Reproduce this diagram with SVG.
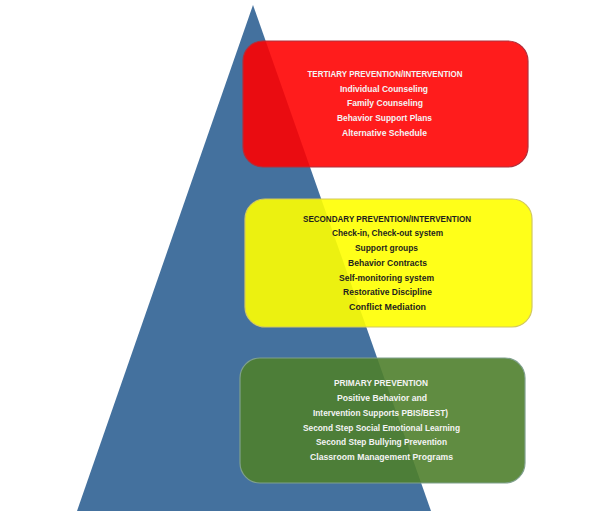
<svg xmlns="http://www.w3.org/2000/svg" width="600" height="514" viewBox="0 0 600 514">
<style>
.t{font-family:"Liberation Sans",Arial,sans-serif;font-weight:bold;font-size:8.6px;text-anchor:middle}
.w{fill:#F4F4F4}
.d{fill:#1E1E1E}
</style>
<rect width="600" height="514" fill="#FFFFFF"/>
<g id="pyramid">
<polygon points="253,5 77,511 431,511" fill="#44719E"/>
</g>
<g id="connectors"/>
<g id="tertiary">
<rect x="243" y="41" width="285" height="126" rx="20" ry="20" fill="#FF0000" fill-opacity="0.89" stroke="#B0303C" stroke-width="1.2"/>
<text class="t w" x="385" y="77" textLength="155" lengthAdjust="spacingAndGlyphs">TERTIARY PREVENTION/INTERVENTION</text>
<text class="t w" x="384" y="91.5" textLength="88" lengthAdjust="spacingAndGlyphs">Individual Counseling</text>
<text class="t w" x="385" y="106.3" textLength="76" lengthAdjust="spacingAndGlyphs">Family Counseling</text>
<text class="t w" x="384.5" y="121" textLength="95" lengthAdjust="spacingAndGlyphs">Behavior Support Plans</text>
<text class="t w" x="384.5" y="135.5" textLength="85" lengthAdjust="spacingAndGlyphs">Alternative Schedule</text>
</g>
<g id="secondary">
<rect x="245" y="199" width="287" height="128" rx="20" ry="20" fill="#FFFF00" fill-opacity="0.9" stroke="#D2C860" stroke-width="1.2"/>
<text class="t d" x="387" y="221.5" textLength="168" lengthAdjust="spacingAndGlyphs">SECONDARY PREVENTION/INTERVENTION</text>
<text class="t d" x="387.5" y="236.3" textLength="111" lengthAdjust="spacingAndGlyphs">Check-in, Check-out system</text>
<text class="t d" x="386.5" y="251" textLength="63" lengthAdjust="spacingAndGlyphs">Support groups</text>
<text class="t d" x="387.5" y="265.8" textLength="79" lengthAdjust="spacingAndGlyphs">Behavior Contracts</text>
<text class="t d" x="386.5" y="280.5" textLength="95" lengthAdjust="spacingAndGlyphs">Self-monitoring system</text>
<text class="t d" x="387.5" y="295.3" textLength="89" lengthAdjust="spacingAndGlyphs">Restorative Discipline</text>
<text class="t d" x="387.5" y="310" textLength="77" lengthAdjust="spacingAndGlyphs">Conflict Mediation</text>
</g>
<g id="primary">
<rect x="240" y="358" width="285" height="125" rx="20" ry="20" fill="#4F7F2C" fill-opacity="0.9" stroke="#7FA08C" stroke-width="1.2"/>
<text class="t w" x="381" y="386" textLength="94" lengthAdjust="spacingAndGlyphs">PRIMARY PREVENTION</text>
<text class="t w" x="382" y="401" textLength="90" lengthAdjust="spacingAndGlyphs">Positive Behavior and</text>
<text class="t w" x="380.5" y="416" textLength="135" lengthAdjust="spacingAndGlyphs">Intervention Supports PBIS/BEST)</text>
<text class="t w" x="381.5" y="430.7" textLength="157" lengthAdjust="spacingAndGlyphs">Second Step Social Emotional Learning</text>
<text class="t w" x="381.5" y="445.3" textLength="131" lengthAdjust="spacingAndGlyphs">Second Step Bullying Prevention</text>
<text class="t w" x="381.5" y="460" textLength="143" lengthAdjust="spacingAndGlyphs">Classroom Management Programs</text>
</g>
</svg>
